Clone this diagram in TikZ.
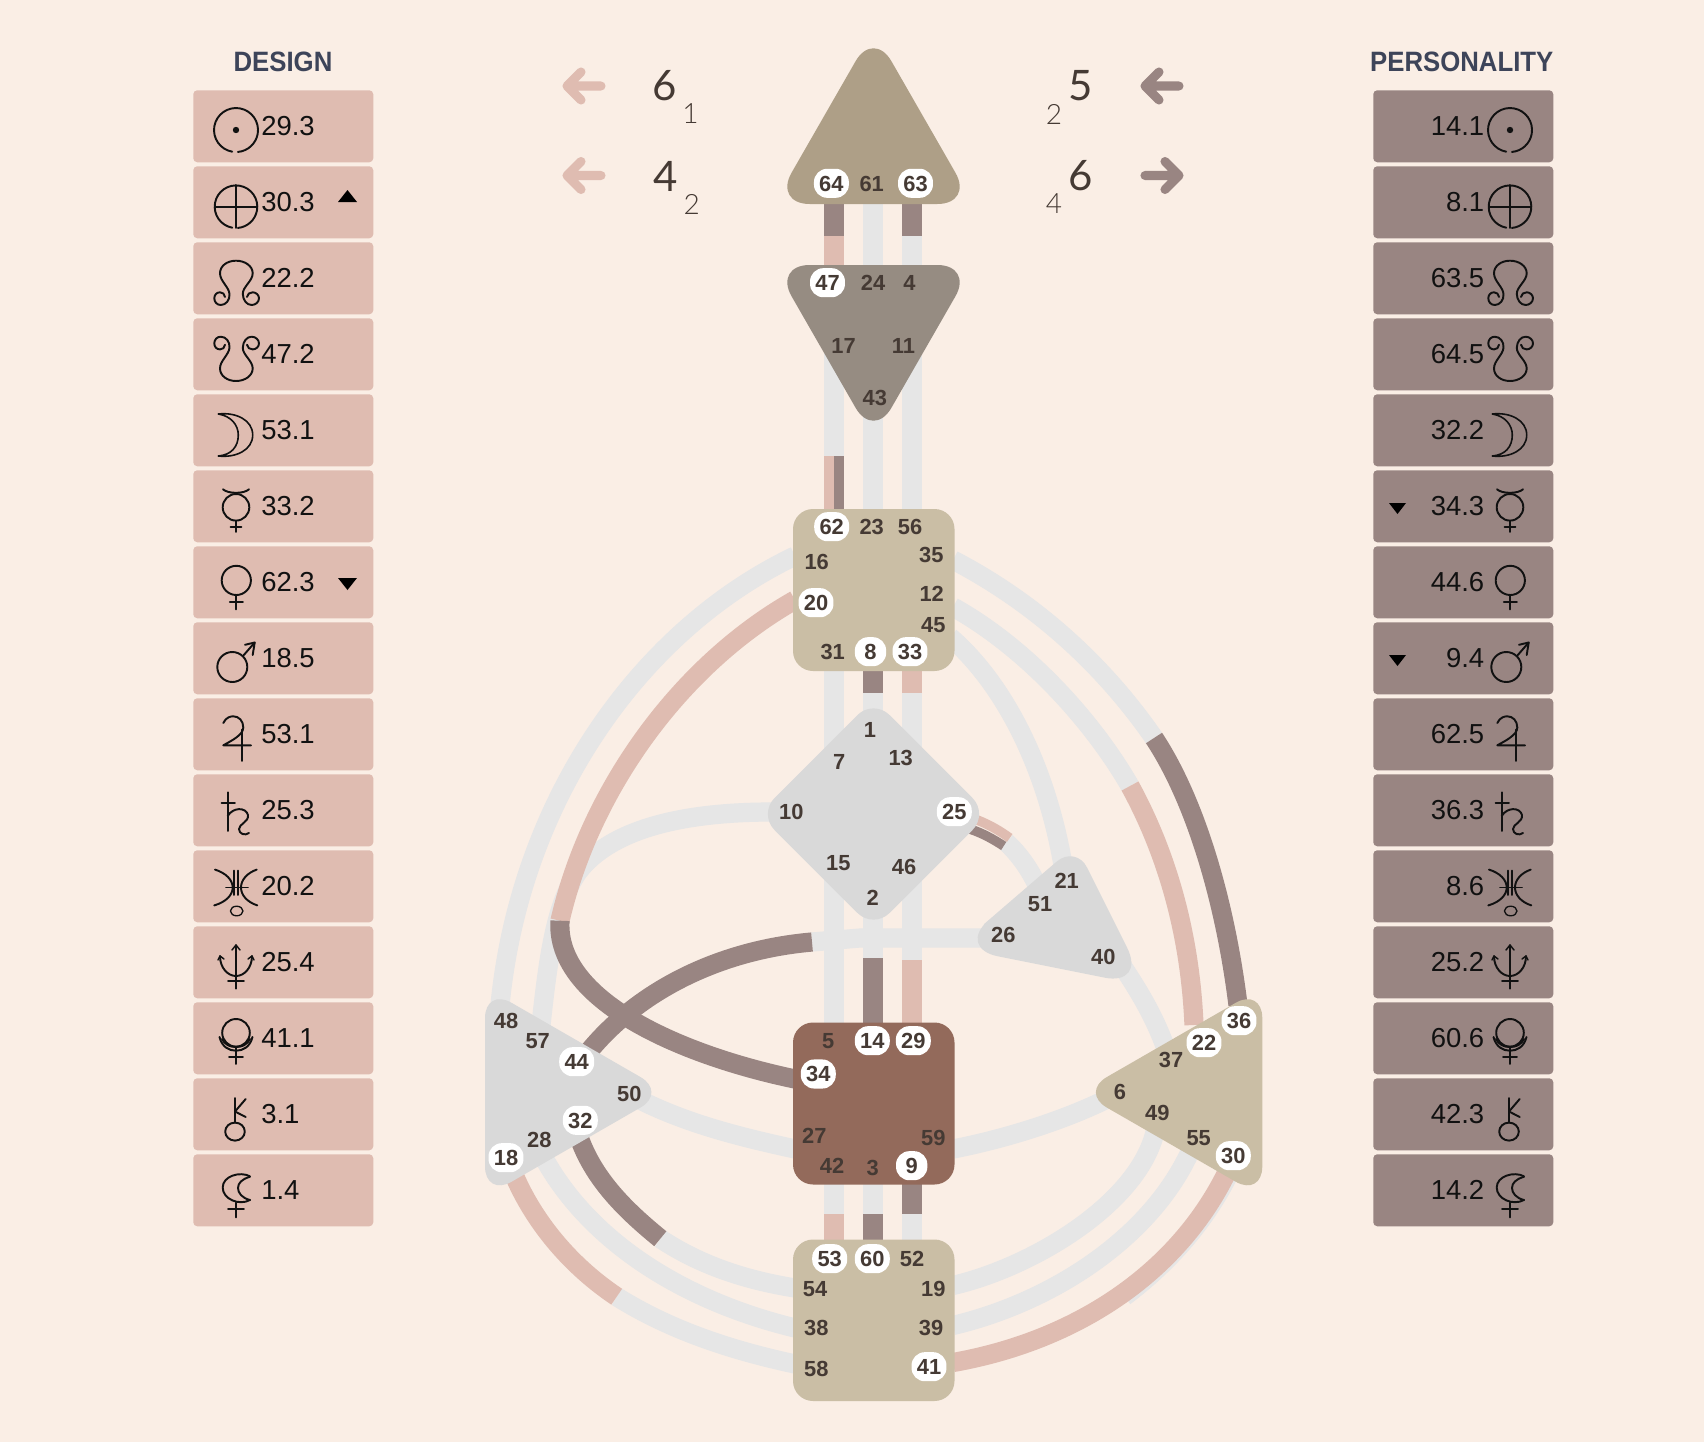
\documentclass[tikz,border=0pt]{standalone}
\usepackage{fontspec}
\setmainfont{Liberation Sans}
\newfontfamily\titlef[FakeStretch=0.92]{Liberation Sans}
\newfontfamily\bigf{Lato}
\newfontfamily\thinf{Lato Light}
\definecolor{bgc}{HTML}{FAEEE5}
\definecolor{des}{HTML}{DFBCB1}
\definecolor{per}{HTML}{998582}
\definecolor{chan}{HTML}{E6E6E6}
\definecolor{headc}{HTML}{AE9F87}
\definecolor{ajnac}{HTML}{968C82}
\definecolor{tanc}{HTML}{CABEA5}
\definecolor{sacc}{HTML}{936A5B}
\definecolor{greyc}{HTML}{D9D9D9}
\definecolor{ink}{HTML}{453A34}
\definecolor{titlec}{HTML}{3D4459}
\definecolor{glyphc}{HTML}{111111}
\tikzset{
  chanline/.style={line width=14.4pt,line cap=butt},
  halfline/.style={line width=7.2pt,line cap=butt},
  centerbox/.style={rounded corners=15pt},
  gatebase/.style={inner sep=0pt,text=ink,font=\fontsize{16.4}{18}\selectfont\bfseries,
     text height=11.7pt,text depth=0pt,anchor=center,align=center},
  gatelab/.style={gatebase},
  wgate/.style={gatebase,fill=white,rounded corners=10pt,minimum width=26.2pt,minimum height=21.8pt},
  wgatesm/.style={wgate,minimum width=23.5pt},
  planetbox/.style={inner sep=0pt,minimum width=135pt,minimum height=54pt,rounded corners=3pt,anchor=north west},
  rowtext/.style={inner sep=0pt,text=glyphc,font=\fontsize{20.6}{24}\selectfont},
  titletext/.style={inner sep=0pt,text=titlec,font=\titlef\fontsize{21}{24}\selectfont\bfseries},
  bignum/.style={inner sep=0pt,text=ink,font=\bigf\fontsize{31.5}{34}\selectfont},
  subnum/.style={inner sep=0pt,text=ink,font=\thinf\fontsize{21}{24}\selectfont},
  glyph/.style={draw=glyphc,line width=1.45pt,line cap=round,line join=round},
  arrowline/.style={line width=6.8pt,line cap=round,line join=round},
}
\newcommand\gate[3]{\node[gatelab] (g#1) at (#2,#3) {#1};}
\newcommand\wg[3]{\node[wgate] (g#1) at (#2,#3) {#1};}
\newcommand\wgs[3]{\node[wgatesm] (g#1) at (#2,#3) {#1};}
% vertical channel piece, two halves: centre x, y1, y2, left colour, right colour
\newcommand\vbar[5]{%
  \fill[#4] (#1-10,#2) rectangle (#1,#3);
  \fill[#5] (#1,#2) rectangle (#1+10,#3);}
% glyphs, origin at glyph centre x and row top
\newcommand\gSun{\draw[glyph] (-3.8,61.7) arc[start angle=100,end angle=445,radius=22];
  \fill[glyphc] (0,40) circle[radius=3.2];}
\newcommand\gEarth{\draw[glyph] (-3.7,61.7) arc[start angle=100,end angle=445,radius=21.3];
  \draw[glyph] (-21,40.7) -- (21,40.7) (0,19) -- (0,62);}
\newcommand\gNorth{\draw[glyph] (-11,55) .. controls (-11,52) and (-13.5,50.3) .. (-16,50.3)
  .. controls (-19.5,50.3) and (-21.7,53) .. (-21.7,56.3)
  .. controls (-21.7,60) and (-19,63) .. (-15.3,63)
  .. controls (-10,63) and (-6,58) .. (-6.5,52)
  .. controls (-7,45) and (-16,39) .. (-16,31.3)
  .. controls (-16,24) and (-9,18.7) .. (0,18.7)
  .. controls (9,18.7) and (16.7,24) .. (16.7,31.3)
  .. controls (16.7,39) and (6.5,45) .. (6.8,52)
  .. controls (7,58) and (10.5,63) .. (15.7,63)
  .. controls (19.5,63) and (23,60) .. (23,56.3)
  .. controls (23,53) and (20,50.3) .. (16.7,50.3)
  .. controls (14,50.3) and (11,52) .. (11,55);}
\newcommand\gSouth{\begin{scope}[shift={(0,81.7)},yscale=-1]\gNorth\end{scope}}
\newcommand\gMoon{\draw[glyph,line width=1.2pt] (-17.7,20) .. controls (0,18) and (16.7,26) .. (16.7,41)
  .. controls (16.7,56) and (0,64) .. (-17.7,62)
  .. controls (-5,61) and (2.3,53) .. (2.3,41)
  .. controls (2.3,31) and (-5,22) .. (-17.7,20) -- cycle;}
\newcommand\gMercury{\draw[glyph] (0,37.3) circle[radius=13.3];
  \draw[glyph] (-13,19.3) .. controls (-8,24) and (8,24) .. (13,19.3);
  \draw[glyph] (0,50.6) -- (0,62) (-5.5,56.7) -- (5.5,56.7);}
\newcommand\gVenus{\draw[glyph] (0.3,34.4) circle[radius=14.6];
  \draw[glyph] (0.3,49) -- (0.3,63.4) (-6.2,55.8) -- (6.8,55.8);}
\newcommand\gMars{\draw[glyph] (-3.7,45) circle[radius=15];
  \draw[glyph] (6.8,34.2) -- (18.7,20.5);
  \draw[glyph] (9,22.8) -- (18.7,20.5) -- (16.7,33);}
\newcommand\gJupiter{\draw[glyph] (-12.7,25) .. controls (-10,19) and (-5,18.3) .. (-2.7,18.3)
  .. controls (3,18.3) and (7.3,23) .. (7.3,29.5)
  .. controls (7.3,37) and (-5,43) .. (-12.7,47.3) -- (15,47.3);
  \draw[glyph] (6.3,31.7) -- (6.3,63);}
\newcommand\gSaturn{\draw[glyph] (-8.3,18.3) -- (-8.3,57) (-14.3,28.6) -- (-1,28.6);
  \draw[glyph] (-8.3,42) .. controls (-3,33) and (10,33) .. (12,41)
  .. controls (13,48) and (3,50) .. (3,55) .. controls (3,60) and (9,62) .. (13,59);}
\newcommand\gUranus{\draw[glyph] (-21,19.6) .. controls (-10,23) and (-3.3,30) .. (-3.3,37.5)
  .. controls (-3.3,45) and (-10,52) .. (-21.7,55.4);
  \draw[glyph] (20.7,19.6) .. controls (11,23) and (5,30) .. (5,37.5)
  .. controls (5,45) and (11,52) .. (21.3,55.4);
  \draw[glyph] (-2,20.5) -- (-2,45) (2.3,20.5) -- (2.3,45) (-10,37.5) -- (12,37.5);
  \draw[glyph,line width=1pt] (0.7,61) ellipse[x radius=6.3,y radius=4.8];}
\newcommand\gNeptune{\draw[glyph] (0,19) -- (0,62.6) (-8,55) -- (8,55);
  \draw[glyph,line width=1.1pt] (-4,24) -- (0,19) -- (4,24);
  \draw[glyph] (-16,30) .. controls (-16,42) and (-8,50) .. (0,50) .. controls (8,50) and (16,42) .. (16,30);
  \draw[glyph,line width=1.1pt] (-16,30) -- (-18,34) (-16,30) -- (-12,33) (16,30) -- (18,34) (16,30) -- (12,33);}
\newcommand\gPluto{\draw[glyph] (0,30.8) circle[radius=13.8];
  \draw[glyph] (-16.5,35) .. controls (-14,45) and (-7,48.7) .. (0,48.7) .. controls (7,48.7) and (14,45) .. (16.5,35);
  \draw[glyph] (-14,37) .. controls (-11,43) and (-6,45) .. (0,45) .. controls (6,45) and (11,43) .. (14,37);
  \draw[glyph] (0,44.6) -- (0,62) (-7,55.4) -- (7,55.4);}
\newcommand\gChiron{\draw[glyph] (-1,53.6) ellipse[x radius=9.8,y radius=9];
  \draw[glyph] (-1,20) -- (-1,44.6);
  \draw[glyph] (9.7,21) -- (-1,33.5) -- (9.7,39);}
\newcommand\gLilith{\draw[glyph] (14,22.3) .. controls (4,17) and (-13.3,22) .. (-13.3,33.5)
  .. controls (-13.3,45) and (3,52) .. (14,46);
  \draw[glyph] (14,22.8) .. controls (6,25) and (2,29) .. (2,34)
  .. controls (2,39) and (6,44) .. (14,46);
  \draw[glyph] (0,48.5) -- (0,63.4) (-8,55) -- (8,55);}
\newcommand\planetrow[4]{%
  \pgfmathsetmacro\ry{90+76*#1}%
  \node[planetbox,fill=des] (L#1) at (193,\ry) {};
  \node[planetbox,fill=per] (R#1) at (1373,\ry) {};
  \node[rowtext,anchor=base west] (Lt#1) at (261,\ry+45) {#3};
  \node[rowtext,anchor=base east] (Rt#1) at (1484.5,\ry+45) {#4};
  \begin{scope}[shift={(236,\ry)}]#2\end{scope}
  \begin{scope}[shift={(1510,\ry)}]#2\end{scope}
}
\begin{document}
\begin{tikzpicture}[x=0.75pt,y=-0.75pt]
\useasboundingbox (0,0) rectangle (1704,1442);
\fill[bgc] (0,0) rectangle (1704,1442);

% ---- channel end points
\coordinate (t16) at (795,556);   \coordinate (sp48) at (500,1005);
\coordinate (t20) at (795,600);   \coordinate (k1) at (560,920.7);
\coordinate (sa34) at (795,1079);
\coordinate (g10) at (772,812);   \coordinate (sp57) at (541,1025);
\coordinate (e26) at (990,938);   \coordinate (k2) at (812,942); \coordinate (sp44) at (590,1050);
\coordinate (t35) at (953,560);   \coordinate (k3) at (1154,738); \coordinate (so36) at (1238,1005);
\coordinate (t12) at (953,607);   \coordinate (k4) at (1130,786); \coordinate (so22) at (1194,1025);
\coordinate (t45) at (950,637);   \coordinate (e21) at (1063,865);
\coordinate (k5) at (1006,842);   \coordinate (e51) at (1037,885);
\coordinate (e40) at (1115,955);  \coordinate (so37) at (1168,1055);
\coordinate (sa59) at (953,1149); \coordinate (so6) at (1105,1100);
\coordinate (r19) at (953,1285.5);\coordinate (so49) at (1157,1120);
\coordinate (r39) at (953,1325.5);\coordinate (so55) at (1195,1140);
\coordinate (r41) at (953,1362.5);\coordinate (so30) at (1228,1170);
\coordinate (sa27) at (795,1149); \coordinate (sp50) at (640,1100);
\coordinate (sp32) at (580,1140); \coordinate (k6) at (660.3,1238.7); \coordinate (r54) at (795,1288);
\coordinate (sp28) at (545,1160); \coordinate (r38) at (795,1328);
\coordinate (sp18) at (512,1170); \coordinate (k7) at (616.7,1296.7); \coordinate (r58) at (795,1364);
\coordinate (k8) at (1124.5,1296.5); \coordinate (so30b) at (1230,1172);

% ---- grey channels
\draw[chanline,chan] (t16) .. controls (640,630) and (520,800) .. (sp48);
\draw[chanline,chan] (g10) .. controls (680,812) and (610,830) .. (578,872)
   .. controls (555,905) and (548,960) .. (sp57);
\draw[chanline,chan] (t35) .. controls (1030,600) and (1100,660) .. (k3);
\draw[chanline,chan] (t12) .. controls (1030,650) and (1095,725) .. (k4);
\draw[chanline,chan] (t45) .. controls (1000,680) and (1045,760) .. (e21);
\draw[chanline,chan] (k5) .. controls (1020,855) and (1030,870) .. (e51);
\draw[chanline,chan] (e40) .. controls (1135,985) and (1155,1015) .. (so37);
\draw[chanline,chan] (sa59) .. controls (1000,1140) and (1060,1122) .. (so6);
\draw[chanline,chan] (r19) .. controls (1040,1265) and (1150,1195) .. (so49);
\draw[chanline,chan] (r39) .. controls (1060,1300) and (1160,1230) .. (so55);
\draw[chanline,chan] (sa27) .. controls (745,1138) and (690,1125) .. (sp50);
\draw[chanline,chan] (k6) .. controls (700,1265) and (745,1280) .. (r54);
\draw[chanline,chan] (sp28) .. controls (590,1240) and (680,1300) .. (r38);
\draw[chanline,chan] (k7) .. controls (670,1330) and (730,1350) .. (r58);
\draw[chanline,chan] (e26) -- (860,938) -- (k2);
\draw[chanline,chan] (k8) .. controls (1170,1262) and (1205,1222) .. (so30b);

% ---- vertical channels
\vbar{834}{204}{236}{per}{per}
\vbar{834}{236}{266}{des}{des}
\vbar{873}{204}{266}{chan}{chan}
\vbar{912}{204}{236}{per}{per}
\vbar{912}{236}{266}{chan}{chan}
\vbar{834}{350}{456}{chan}{chan}
\vbar{834}{456}{510}{des}{per}
\vbar{873}{400}{510}{chan}{chan}
\vbar{912}{350}{510}{chan}{chan}
\vbar{834}{670}{1023}{chan}{chan}
\vbar{873}{670}{693}{per}{per}
\vbar{873}{693}{712}{chan}{chan}
\vbar{912}{670}{693}{des}{des}
\vbar{912}{693}{960}{chan}{chan}
\vbar{873}{915}{958}{chan}{chan}
\vbar{873}{958}{1023}{per}{per}
\vbar{912}{960}{1023}{des}{des}
\vbar{834}{1184}{1214}{chan}{chan}
\vbar{834}{1214}{1240}{des}{des}
\vbar{873}{1184}{1214}{chan}{chan}
\vbar{873}{1214}{1240}{per}{per}
\vbar{912}{1184}{1214}{per}{per}
\vbar{912}{1214}{1240}{chan}{chan}

% ---- coloured arcs
\draw[chanline,des] (t20) .. controls (680,665) and (590,790) .. (k1);
\draw[chanline,per] (k1) .. controls (555,1000) and (680,1055) .. (sa34);
\draw[chanline,per] (k2) .. controls (720,950) and (640,990) .. (sp44);
\draw[chanline,per] (k3) .. controls (1195,800) and (1225,900) .. (so36);
\draw[chanline,des] (k4) .. controls (1165,850) and (1190,930) .. (so22);
\draw[chanline,des] (r41) .. controls (1080,1340) and (1180,1270) .. (so30);
\draw[chanline,per] (sp32) .. controls (595,1180) and (625,1210) .. (k6);
\draw[chanline,des] (sp18) .. controls (530,1215) and (565,1262) .. (k7);
\draw[halfline,des] (977.3,820) .. controls (990,825) and (1000,831) .. (1009.7,838);
\draw[halfline,per] (970.7,829.3) .. controls (982,833) and (993,839) .. (1003.7,846);

% ---- centres
\fill[headc,rounded corners=27pt] (873.5,30) -- (973.4,204) -- (773.6,204) -- cycle;
\node[inner sep=0pt] (head) at (873.5,140) {};
\fill[ajnac,rounded corners=27pt] (773.6,265) -- (973.4,265) -- (873.5,439) -- cycle;
\node[inner sep=0pt] (ajna) at (873.5,320) {};
\fill[tanc,centerbox] (793,509) rectangle (954.5,671);
\node[inner sep=0pt] (throat) at (873.5,590) {};
\fill[greyc,rounded corners=17pt] (873.5,699) -- (988.5,814) -- (873.5,929) -- (758.5,814) -- cycle;
\node[inner sep=0pt] (gc) at (873.5,814) {};
\fill[greyc] (1016,896.5) [rounded corners=19pt] -- (1075.9,845.1) -- (1111,915.5)
   [rounded corners=32pt] -- (1146.3,986) -- (956.3,948) -- cycle;
\node[inner sep=0pt] (ego) at (1060,920) {};
\fill[sacc,centerbox] (793,1022.5) rectangle (954.5,1184.5);
\node[inner sep=0pt] (sacral) at (873.5,1103) {};
\fill[tanc,centerbox] (793,1239.5) rectangle (954.5,1401);
\node[inner sep=0pt] (root) at (873.5,1320) {};
\fill[greyc,rounded corners=23pt] (485,987.5) -- (667,1092.3) -- (485,1197) -- cycle;
\node[inner sep=0pt] (spleen) at (550,1092) {};
\fill[tanc,rounded corners=23pt] (1262.3,987.5) -- (1262.3,1197) -- (1080.3,1092.3) -- cycle;
\node[inner sep=0pt] (solar) at (1200,1092) {};

% ---- gates
\wg{64}{831.4}{183.3} \gate{61}{871.7}{183.3} \wg{63}{915.5}{183.3}
\wg{47}{827.5}{282.7} \gate{24}{873}{282.7} \gate{4}{909.5}{282.7}
\gate{17}{843.6}{345.7} \gate{11}{903.4}{345.7} \gate{43}{874.8}{397.7}
\wg{62}{831.7}{526.7} \gate{23}{871.7}{526.7} \gate{56}{910}{526.7}
\gate{16}{816.7}{561.7} \wg{20}{816}{602.7} \gate{31}{832.7}{651.7}
\wgs{8}{870.5}{651.7} \wg{33}{910}{651.7}
\gate{35}{931.3}{554.3} \gate{12}{931.7}{593.7} \gate{45}{933.3}{624.3}
\gate{1}{870}{730} \gate{7}{839.3}{761.7} \gate{10}{791.3}{811.7}
\gate{15}{838.3}{862.7} \gate{2}{872.7}{897.7} \gate{13}{900.7}{757.7}
\wg{25}{954.3}{811.7} \gate{46}{904}{866.7}
\gate{21}{1066.7}{880.7} \gate{51}{1040}{903.3} \gate{26}{1003.3}{935} \gate{40}{1103.3}{956.7}
\gate{48}{506}{1020.7} \gate{57}{537.7}{1040.7} \wg{44}{576.7}{1061.7} \gate{50}{629.3}{1093.3}
\wg{32}{580.3}{1120.3} \gate{28}{539.3}{1139.7} \wg{18}{506}{1157.7}
\gate{5}{828.3}{1040.7} \wg{14}{872.3}{1040.7} \wg{29}{913.3}{1040.7} \wg{34}{818.3}{1074}
\gate{27}{814.3}{1135.7} \gate{59}{933.3}{1137.3} \gate{42}{832}{1165.7} \gate{3}{872.7}{1167.3} \wgs{9}{911.7}{1165.7}
\wg{53}{829.7}{1258.7} \wg{60}{872.3}{1258.7} \gate{52}{912}{1258.7}
\gate{54}{815}{1288.3} \gate{19}{933.3}{1288.3} \gate{38}{816.3}{1327.3} \gate{39}{931}{1327.3}
\gate{58}{816.3}{1368.3} \wg{41}{929}{1366.7}
\wg{36}{1239}{1020.7} \wg{22}{1204}{1042.7} \gate{37}{1171}{1059.7} \gate{6}{1120}{1091.3}
\gate{49}{1157.3}{1112.7} \gate{55}{1198.7}{1137.3} \wg{30}{1233.3}{1155.7}

% ---- top numbers and arrows
\node[bignum] (n1) at (665,86) {6};
\node[subnum] (n1s) at (690.5,114) {1};
\node[bignum] (n2) at (665.5,176) {4};
\node[subnum] (n2s) at (691.8,204) {2};
\node[bignum] (n3) at (1080.8,86) {5};
\node[subnum] (n3s) at (1053.9,114) {2};
\node[bignum] (n4) at (1080.8,176) {6};
\node[subnum] (n4s) at (1053.9,204) {4};
\draw[arrowline,des] (601,86) -- (567,86) (581,72) -- (567,86) -- (581,100);
\draw[arrowline,des] (601,175.5) -- (567,175.5) (581,161.5) -- (567,175.5) -- (581,189.5);
\draw[arrowline,per] (1179,86) -- (1145,86) (1159,72) -- (1145,86) -- (1159,100);
\draw[arrowline,per] (1145,175.5) -- (1179,175.5) (1165,161.5) -- (1179,175.5) -- (1165,189.5);

% ---- titles
\node[titletext] (tl) at (283,61.7) {DESIGN};
\node[titletext] (tr) at (1461.8,61.7) {PERSONALITY};

% ---- planet rows
\planetrow{0}{\gSun}{29.3}{14.1}
\planetrow{1}{\gEarth}{30.3}{8.1}
\planetrow{2}{\gNorth}{22.2}{63.5}
\planetrow{3}{\gSouth}{47.2}{64.5}
\planetrow{4}{\gMoon}{53.1}{32.2}
\planetrow{5}{\gMercury}{33.2}{34.3}
\planetrow{6}{\gVenus}{62.3}{44.6}
\planetrow{7}{\gMars}{18.5}{9.4}
\planetrow{8}{\gJupiter}{53.1}{62.5}
\planetrow{9}{\gSaturn}{25.3}{36.3}
\planetrow{10}{\gUranus}{20.2}{8.6}
\planetrow{11}{\gNeptune}{25.4}{25.2}
\planetrow{12}{\gPluto}{41.1}{60.6}
\planetrow{13}{\gChiron}{3.1}{42.3}
\planetrow{14}{\gLilith}{1.4}{14.2}

% ---- small triangles
\fill[black] (347.5,190) -- (357,202) -- (338,202) -- cycle;
\fill[black] (338,578) -- (357,578) -- (347.5,590) -- cycle;
\fill[black] (1389,503) -- (1406,503) -- (1397.5,514) -- cycle;
\fill[black] (1389,655) -- (1406,655) -- (1397.5,666) -- cycle;
\end{tikzpicture}
\end{document}
